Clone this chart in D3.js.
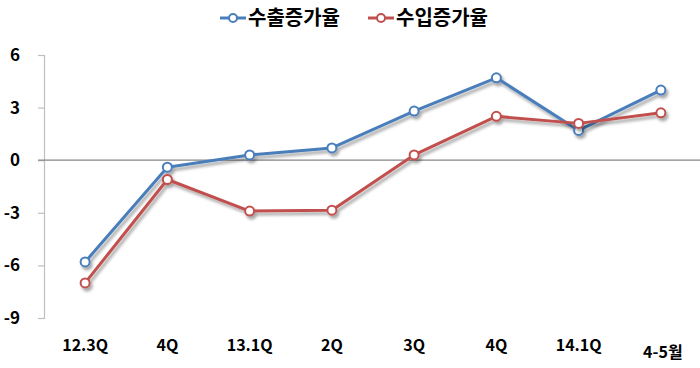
<!DOCTYPE html>
<html><head><meta charset="utf-8">
<script src="https://cdn.jsdelivr.net/npm/d3@7"></script>
<style>body{margin:0;background:#fff}svg{display:block}text{font-family:"Noto Sans CJK KR","Noto Sans",sans-serif;font-weight:bold;fill:#000}</style>
</head><body><svg id="c" width="700" height="368"></svg>
<script>
const categories = ["12.3Q","4Q","13.1Q","2Q","3Q","4Q","14.1Q","4-5월"];
const exportGrowth = [-5.8,-0.4,0.3,0.7,2.8,4.7,1.7,4.0];
const importGrowth = [-7.0,-1.1,-2.9,-2.85,0.3,2.5,2.1,2.7];
const yTicks = [6,3,0,-3,-6,-9];
const seriesNames = ["수출증가율","수입증가율"];
const colors = ["#4A7EBB","#C0504D"];

const svg = d3.select("#c");
const defs = svg.append("defs");
const f = defs.append("filter").attr("id","sh").attr("x","-20%").attr("y","-20%").attr("width","140%").attr("height","140%");
f.append("feDropShadow").attr("dx",2).attr("dy",3).attr("stdDeviation",1.6).attr("flood-color","#000").attr("flood-opacity",0.35);

const x = d3.scaleBand().domain(d3.range(categories.length)).range([44,702]);
const y = d3.scaleLinear().domain([-9,6]).range([318,55]);

// y axis
const ya = svg.append("g").attr("transform","translate(44,0)")
  .call(d3.axisLeft(y).tickValues(yTicks).tickSize(6).tickPadding(18).tickFormat(d=>String(d)));
ya.select(".domain").attr("stroke","#BFBFBF").attr("stroke-width",1.2);
ya.selectAll(".tick line").attr("stroke","#BFBFBF").attr("stroke-width",1.2);
ya.selectAll(".tick text").style("font-size","17px").attr("fill","#000");

// zero line
svg.append("line").attr("x1",38).attr("x2",700).attr("y1",y(0)).attr("y2",y(0)).attr("stroke","#868686").attr("stroke-width",1.2);

// x labels
svg.append("g").selectAll("text").data(categories).join("text")
  .attr("x",(d,i)=>x(i)+x.bandwidth()/2 + (i===7?2:0))
  .attr("y",(d,i)=>i===7?358:351)
  .attr("text-anchor","middle").style("font-size","16px").text(d=>d);

const cx = i => x(i)+x.bandwidth()/2;
const line = d3.line().x((d,i)=>cx(i)).y(d=>y(d));
[exportGrowth, importGrowth].forEach((data,k)=>{
  const g = svg.append("g").attr("filter","url(#sh)");
  g.append("path").attr("d",line(data)).attr("fill","none").attr("stroke",colors[k]).attr("stroke-width",3).attr("stroke-linejoin","round");
  g.selectAll("circle").data(data).join("circle").attr("cx",(d,i)=>cx(i)).attr("cy",d=>y(d)).attr("r",4.5)
    .attr("fill","#fff").attr("stroke",colors[k]).attr("stroke-width",2);
});

// legend
const lx = [220,368];
seriesNames.forEach((n,k)=>{
  const g = svg.append("g").attr("transform",`translate(${lx[k]},18)`);
  g.append("line").attr("x1",0).attr("x2",26).attr("stroke",colors[k]).attr("stroke-width",3);
  g.append("circle").attr("cx",13).attr("r",4).attr("fill","#fff").attr("stroke",colors[k]).attr("stroke-width",2);
  g.append("text").attr("x",28).attr("y",7).style("font-size","20px").text(n);
});
</script></body></html>
